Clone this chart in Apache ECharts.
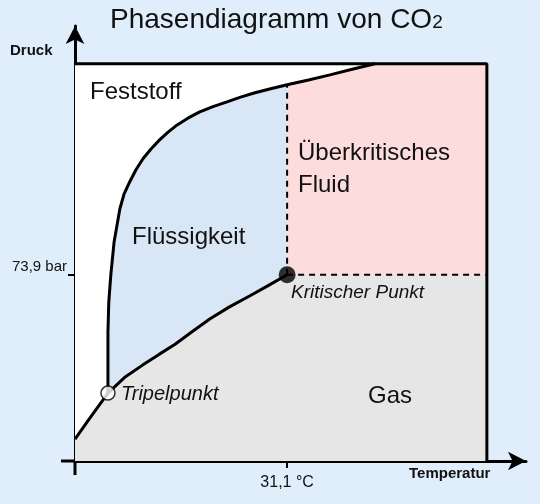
<!DOCTYPE html>
<html>
<head>
<meta charset="utf-8">
<script src="https://cdn.jsdelivr.net/npm/echarts@6/dist/echarts.min.js"></script>
<style>
  html, body { margin: 0; padding: 0; background: #dfeefa; }
  #chart { width: 540px; height: 504px; }
</style>
</head>
<body>
<div id="chart"></div>
<script>
// Diagramm in relativen Einheiten (0..100 = Rahmen)
const triple = [8.0, 17.1]
const critical = [51.5, 46.9]
const vaporCurve = [[0, 5.5], [3.6, 10.8], [8.0, 17.1], [12.0, 21.0], [16.5, 24.2], [20.5, 26.9], [24.3, 29.4], [28.5, 32.6], [32.8, 35.8], [37.5, 38.8], [42.5, 41.6], [47.0, 44.2], [51.5, 46.9]]
const meltCurve = [[8.0, 17.1], [8.0, 21.7], [8.0, 32.5], [8.2, 40.0], [8.7, 46.9], [9.5, 55.2], [10.9, 63.5], [11.9, 67.2], [13.3, 70.3], [14.8, 73.3], [16.5, 76.1], [18.5, 78.6], [20.6, 80.9], [22.6, 82.8], [24.8, 84.6], [27.4, 86.3], [30.3, 87.9], [33.5, 89.2], [36.9, 90.4], [40.2, 91.6], [43.7, 92.7], [47.5, 93.7], [51.5, 94.7], [56.7, 95.9], [61.9, 97.2], [67.3, 98.6], [72.8, 100]]
const xTicks = [critical[0]]
const yTicks = [critical[1]]
const xTickLabel = '31,1 °C'
const yTickLabel = '73,9 bar'

const meltAt = x => meltCurve.find(p => p[0] >= x)

const gasArea = vaporCurve.concat([[100, critical[1]], [100, 0], [0, 0]])
const liquidArea = vaporCurve.filter(p => p[0] >= triple[0])
  .concat(meltCurve.filter(p => p[0] <= critical[0]).slice().reverse())
const superArea = [critical, [100, critical[1]], [100, 100]]
  .concat(meltCurve.filter(p => p[0] >= critical[0]).slice().reverse())

function polygonSeries (points, color) {
  return {
    type: 'custom',
    silent: true,
    data: [0],
    renderItem: (params, api) => ({
      type: 'polygon',
      shape: { points: points.map(p => api.coord(p)) },
      style: { fill: color, stroke: null },
    }),
  }
}

function lineSeries (data, dashed) {
  return {
    type: 'line',
    data,
    symbol: 'none',
    silent: true,
    lineStyle: { color: '#000', width: dashed ? 2 : 3, type: dashed ? [6, 5] : 'solid' },
    z: 5,
  }
}

const chart = echarts.init(document.getElementById('chart'))
const txt = { fontFamily: 'Liberation Sans', fill: '#111' }

chart.setOption({
  backgroundColor: '#dfeefa',
  animation: false,
  grid: { left: 75, top: 26, right: 14, bottom: 43 },
  xAxis: {
    type: 'value', min: 0, max: 109.5,
    splitLine: { show: false },
    axisLine: { lineStyle: { color: '#000', width: 3 }, symbol: ['none', 'arrow'], symbolSize: [14, 18] },
    axisTick: { show: true, customValues: xTicks, length: 7, lineStyle: { width: 2, color: '#000' } },
    axisLabel: { customValues: xTicks, formatter: () => xTickLabel, fontFamily: 'Liberation Sans', fontSize: 16, color: '#111', margin: 14 },
  },
  yAxis: {
    type: 'value', min: 0, max: 109.5,
    splitLine: { show: false },
    axisLine: { lineStyle: { color: '#000', width: 3 }, symbol: ['none', 'arrow'], symbolSize: [14, 18] },
    axisTick: { show: true, customValues: yTicks, length: 7, lineStyle: { width: 2, color: '#000' } },
    axisLabel: { customValues: yTicks, formatter: () => yTickLabel, fontFamily: 'Liberation Sans', fontSize: 15, color: '#111', margin: 8, verticalAlign: 'bottom' },
  },
  series: [
    polygonSeries([[0, 0], [100, 0], [100, 100], [0, 100]], '#ffffff'),
    polygonSeries(gasArea, '#e6e6e6'),
    polygonSeries(liquidArea, '#d9e6f6'),
    polygonSeries(superArea, '#fddcdc'),
    lineSeries([[critical[0], critical[1]], [critical[0], meltAt(critical[0])[1]]], true),
    lineSeries([critical, [100, critical[1]]], true),
    lineSeries(vaporCurve, false),
    lineSeries(meltCurve, false),
    lineSeries([[0, 100], [100, 100], [100, 0]], false),
    {
      type: 'scatter', silent: true, z: 6,
      data: [
        { value: triple, symbolSize: 14, itemStyle: { color: '#fff', borderColor: '#000', borderWidth: 1.5 } },
        { value: critical, symbolSize: 17, itemStyle: { color: '#000' } },
      ],
    },
  ],
  graphic: [
    { type: 'line', z: 100, shape: { x1: 61, y1: 461, x2: 75, y2: 461 }, style: { stroke: '#000', lineWidth: 3 } },
    { type: 'line', z: 100, shape: { x1: 75, y1: 461, x2: 75, y2: 475 }, style: { stroke: '#000', lineWidth: 3 } },
    { type: 'text', z: 100, x: 110, y: 6, style: { ...txt, text: '{a|Phasendiagramm von CO}{b|2}', rich: { a: { fontSize: 28, fontFamily: 'Liberation Sans', fill: '#111' }, b: { fontSize: 19, fontFamily: 'Liberation Sans', fill: '#111', padding: [6, 0, 0, 0] } } } },
    { type: 'text', z: 100, x: 10, y: 43, style: { ...txt, text: 'Druck', fontSize: 15, fontWeight: 'bold' } },
    { type: 'text', z: 100, x: 409, y: 466, style: { ...txt, text: 'Temperatur', fontSize: 15, fontWeight: 'bold' } },
    { type: 'text', z: 100, x: 90, y: 80, style: { ...txt, text: 'Feststoff', fontSize: 24 } },
    { type: 'text', z: 100, x: 298, y: 137, style: { ...txt, text: 'Überkritisches\nFluid', fontSize: 24, lineHeight: 32 } },
    { type: 'text', z: 100, x: 132, y: 225, style: { ...txt, text: 'Flüssigkeit', fontSize: 24 } },
    { type: 'text', z: 100, x: 368, y: 384, style: { ...txt, text: 'Gas', fontSize: 24 } },
    { type: 'text', z: 100, x: 121, y: 384, style: { ...txt, text: 'Tripelpunkt', fontSize: 20, fontStyle: 'italic' } },
    { type: 'text', z: 100, x: 291, y: 283, style: { ...txt, text: 'Kritischer Punkt', fontSize: 19, fontStyle: 'italic' } },
  ],
})
</script>
</body>
</html>
